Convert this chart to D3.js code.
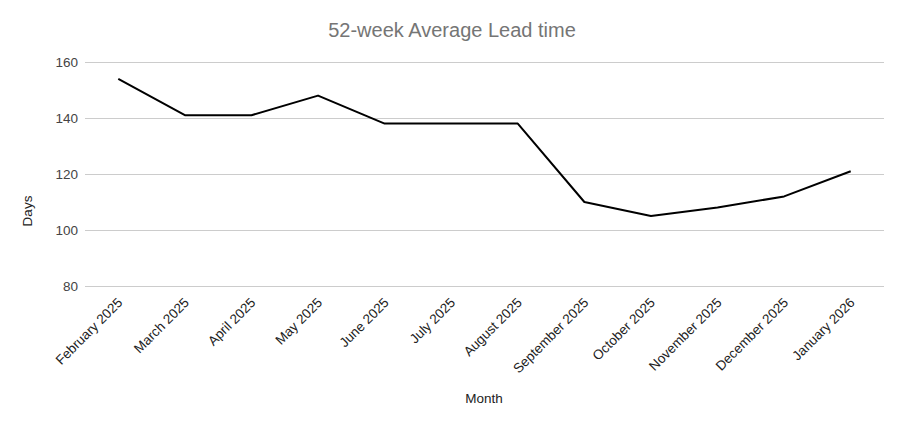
<!DOCTYPE html>
<html>
<head>
<meta charset="utf-8">
<script src="https://cdn.jsdelivr.net/npm/d3@7"></script>
<style>
  body { margin: 0; background: #fff; }
  text { font-family: "Liberation Sans", Arial, sans-serif; }
</style>
</head>
<body>
<div id="chart"></div>
<script>
const months = ["February 2025", "March 2025", "April 2025", "May 2025", "June 2025", "July 2025",
    "August 2025", "September 2025", "October 2025", "November 2025", "December 2025", "January 2026"];
const leadDays = [154, 141, 141, 148, 138, 138, 138, 110, 105, 108, 112, 121];
const yTicks = [80, 100, 120, 140, 160];

const width = 904, height = 425;
const margin = {top: 62, right: 20, bottom: 139, left: 85};

const svg = d3.select("#chart")
    .append("svg")
    .attr("width", width)
    .attr("height", height);

const xScale = d3.scalePoint()
    .domain(months)
    .range([margin.left, width - margin.right])
    .padding(0.5);

const yScale = d3.scaleLinear()
    .domain([80, 160])
    .range([height - margin.bottom, margin.top]);

// gridlines
svg.append("g")
    .selectAll("line")
    .data(yTicks)
    .join("line")
      .attr("x1", margin.left)
      .attr("x2", width - margin.right)
      .attr("y1", d => yScale(d) + 0.5)
      .attr("y2", d => yScale(d) + 0.5)
      .attr("stroke", "#cccccc")
      .attr("stroke-width", 1);

// y labels
const yAxis = svg.append("g")
    .attr("transform", `translate(${margin.left},0)`)
    .call(d3.axisLeft(yScale).tickValues(yTicks).tickSize(0).tickPadding(7));
yAxis.select(".domain").remove();
yAxis.selectAll("text")
    .attr("font-size", 13.5)
    .attr("fill", "#444");

// x labels
const xAxis = svg.append("g")
    .attr("transform", `translate(0,${height - margin.bottom})`)
    .call(d3.axisBottom(xScale).tickSize(0));
xAxis.select(".domain").remove();
xAxis.selectAll("text")
    .attr("font-size", 13.5)
    .attr("fill", "#222")
    .attr("text-anchor", "end")
    .attr("dy", "0.35em")
    .attr("transform", "translate(-1,12) rotate(-45)");

// line
const line = d3.line()
    .x((d, i) => xScale(months[i]))
    .y(d => yScale(d))
    .curve(d3.curveLinear);

svg.append("path")
    .datum(leadDays)
      .attr("d", line)
      .attr("fill", "none")
      .attr("stroke", "#000")
      .attr("stroke-width", 2)
      .attr("stroke-linejoin", "round");

// title
svg.append("text")
    .attr("x", width / 2)
    .attr("y", 37)
    .attr("text-anchor", "middle")
    .attr("font-size", 20)
    .attr("fill", "#757575")
    .text("52-week Average Lead time");

// axis titles
svg.append("text")
    .attr("x", 484)
    .attr("y", 403)
    .attr("text-anchor", "middle")
    .attr("font-size", 13.5)
    .attr("fill", "#222")
    .text("Month");

svg.append("text")
    .attr("transform", "translate(32,211) rotate(-90)")
    .attr("text-anchor", "middle")
    .attr("font-size", 13.5)
    .attr("fill", "#222")
    .text("Days");
</script>
</body>
</html>
